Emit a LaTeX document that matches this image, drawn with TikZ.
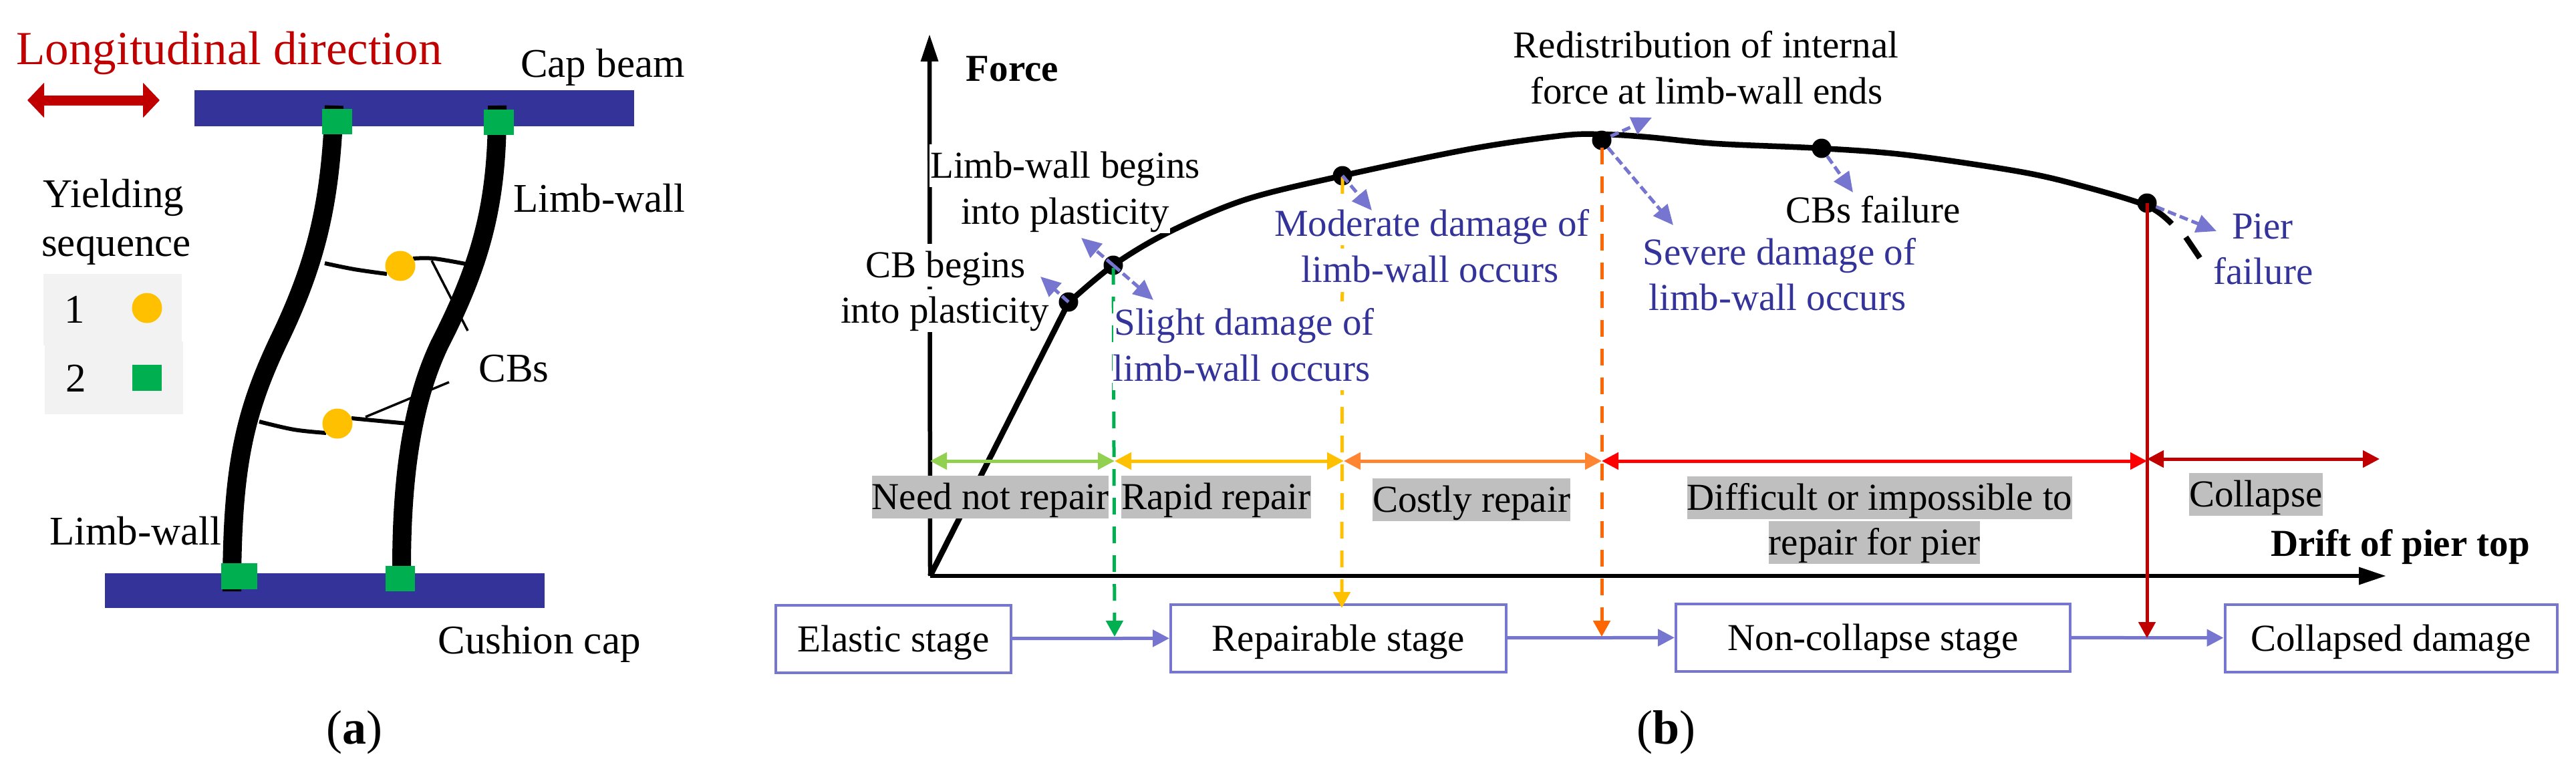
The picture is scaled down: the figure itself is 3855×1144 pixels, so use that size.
\documentclass[tikz,border=0pt]{standalone}
\usepackage{fontspec}
\setmainfont{Liberation Serif}
\usetikzlibrary{arrows.meta}
\definecolor{barblue}{HTML}{333399}
\definecolor{peri}{HTML}{7676D0}
\definecolor{wine}{HTML}{C00000}
\definecolor{gold}{HTML}{FFC000}
\definecolor{leaf}{HTML}{00B050}
\definecolor{lime}{HTML}{92D050}
\definecolor{amber}{HTML}{FF8533}
\definecolor{burnt}{HTML}{FF6600}
\definecolor{legendgray}{HTML}{F2F2F2}
\definecolor{labelgray}{HTML}{BFBFBF}
\newcommand{\fsA}{\fontsize{61}{70}\selectfont}
\newcommand{\fsB}{\fontsize{57}{66}\selectfont}
\tikzset{
  lblA/.style={inner sep=0pt,anchor=base,font=\fsA},
  lblB/.style={inner sep=0pt,anchor=base,font=\fsB},
  hl/.style={lblB,text height=50pt,text depth=14pt,inner xsep=1pt,fill=white},
  grayhl/.style={lblB,text height=50pt,text depth=14pt,inner xsep=0pt,fill=labelgray},
  bluetxt/.style={text=barblue},
  stagebox/.style={draw=peri,line width=4pt,fill=white,inner sep=0pt,font=\fsB,text height=52pt,text depth=13pt},
  flowarrow/.style={draw=peri,line width=5pt,-{Triangle[length=25pt,width=25pt]}},
  rangearrow/.style={line width=5pt,{Triangle[length=25pt,width=25pt]}-{Triangle[length=25pt,width=25pt]}},
  dashv/.style={line width=5pt,dash pattern=on 25pt off 18pt,-{Triangle[length=24pt,width=25pt]}},
  peek/.style={draw=peri,line width=5pt,dash pattern=on 13pt off 6pt,-{Triangle[length=30pt,width=27pt]}},
  marker/.style={circle,fill=black,inner sep=0pt,minimum size=29pt},
  plastic/.style={circle,fill=gold,inner sep=0pt,minimum size=45pt},
  hinge/.style={rectangle,fill=leaf,inner sep=0pt},
  wall/.style={line width=28pt,black},
  beamline/.style={line width=6pt,black},
  leader/.style={line width=3.5pt,black}
}
\begin{document}
\begin{tikzpicture}[x=1pt,y=-1pt]
\useasboundingbox (0,0) rectangle (3855,1144);
% ---------- panel (a)
\node[lblA,font=\fontsize{71}{80}\selectfont,text=wine] (longi) at (343,96) {Longitudinal direction};
\coordinate (dirL) at (41,150);
\coordinate (dirR) at (239,150);
\draw[line width=15pt,wine,{Triangle[length=25pt,width=51pt]}-{Triangle[length=25pt,width=51pt]}] (dirL) -- (dirR);
\node[fill=barblue,inner sep=0pt,minimum width=658pt,minimum height=54pt] (capbeam) at (620,162) {};
\node[fill=barblue,inner sep=0pt,minimum width=658pt,minimum height=52pt] (cushion) at (486,884) {};
\node[lblA] (tcap) at (902,115) {Cap beam};
\node[lblA] (tlimb1) at (897,317) {Limb-wall};
\node[lblA] (tlimb2) at (203,815) {Limb-wall};
\node[lblA] (tcush) at (807,978) {Cushion cap};
\node[lblA] (tcbs) at (769,571) {CBs};
\node[lblA] (tyield) at (170,310) {Yielding};
\node[lblA] (tseq) at (174,383) {sequence};
\fill[legendgray] (65,410) rectangle (272,517);
\fill[legendgray] (67,511) rectangle (274,620);
\node[lblA] (tone) at (112,483) {1};
\node[lblA] (ttwo) at (114,586) {2};
\node[plastic] (legc) at (220,461) {};
\node[hinge,minimum width=44pt,minimum height=39pt] (legs) at (220,565) {};
\draw[wall] (500,158) .. controls (495,300) and (475,390) .. (417,510) .. controls (365,620) and (347,700) .. (347,885);
\draw[wall] (744,158) .. controls (745,300) and (722,390) .. (658,515) .. controls (620,595) and (601,700) .. (601,850);
\draw[beamline] plot[smooth,tension=.6] coordinates {(486,394) (530,403) (579,410)};
\draw[beamline] plot[smooth,tension=.6] coordinates {(618,387) (650,387) (702,396)};
\draw[beamline] plot[smooth,tension=.6] coordinates {(388,631) (440,643) (488,648)};
\draw[beamline] (526,626) -- (610,634);
\coordinate (lead1a) at (646,390);
\coordinate (lead1b) at (700,495);
\coordinate (lead2a) at (547,624);
\coordinate (lead2b) at (672,572);
\draw[leader] (lead1a) -- (lead1b);
\draw[leader] (lead2a) -- (lead2b);
\node[plastic] (cb1) at (599,398) {};
\node[plastic] (cb2) at (505,634) {};
\node[hinge,minimum width=45pt,minimum height=38pt] (h1) at (504,182) {};
\node[hinge,minimum width=45pt,minimum height=38pt] (h2) at (746,183) {};
\node[hinge,minimum width=54pt,minimum height=39pt] (h3) at (358,862) {};
\node[hinge,minimum width=44pt,minimum height=38pt] (h4) at (599,866) {};
\node[lblA,font=\fontsize{72}{80}\selectfont] (capa) at (530,1113) {(\textbf{a})};
% ---------- panel (b): axes and curve
\coordinate (org) at (1392,862);
\coordinate (ytip) at (1391,51);
\coordinate (xtip) at (3571,862);
\draw[line width=6.5pt,-{Triangle[length=41pt,width=25pt]}] (org) -- (ytip);
\draw[line width=6.5pt,-{Triangle[length=41pt,width=25pt]}] (org) -- (xtip);
\draw[line width=8.5pt] (org) -- (1599,453);
\draw[line width=8.5pt] plot[smooth,tension=.55] coordinates {(1599,453) (1666,397) (1748,348) (1863,299) (2009,263) (2200,223) (2337,203) (2397,201) (2464,205) (2569,215) (2725,222) (2854,232) (3023,257) (3118,279) (3213,308) (3250,335)};
\draw[line width=8.5pt] (3271,355) -- (3292,386);
% markers
\node[marker] (m1) at (1599,452) {};
\node[marker] (m2) at (1666,397) {};
\node[marker] (m3) at (2009,263) {};
\node[marker] (m4) at (2397,210) {};
\node[marker] (m5) at (2726,222) {};
\node[marker] (m6) at (3213,304) {};
% stage boxes
\node[stagebox,minimum width=352pt,minimum height=101pt] (st1) at (1337,956) {Elastic stage};
\node[stagebox,minimum width=502pt,minimum height=101pt] (st2) at (2003,955) {Repairable stage};
\node[stagebox,minimum width=590pt,minimum height=101pt] (st3) at (2803,954) {Non-collapse stage};
\node[stagebox,minimum width=497pt,minimum height=101pt] (st4) at (3578,955) {Collapsed damage};
\draw[flowarrow] (st1) -- (st2);
\draw[flowarrow] (st2) -- (st3);
\draw[flowarrow] (st3) -- (st4);
% vertical dashed and solid drops
\coordinate (d1) at (1668,953);
\coordinate (d2) at (2008,910);
\coordinate (d3) at (2397,953);
\coordinate (d4) at (3213,955);
\draw[dashv,leaf,dash phase=39pt] (m2.center) -- (d1);
\draw[dashv,gold,dash phase=41pt] (m3.center) -- (d2);
\draw[dashv,burnt,dash phase=32pt] (m4.center) -- (d3);
\draw[wine,line width=5pt,-{Triangle[length=24pt,width=25pt]}] (m6.center) -- (d4);
% white-backed texts
\node[hl] (l1) at (1594,266) {Limb-wall begins};
\node[hl] (l2) at (1594,335) {into plasticity};
\node[hl] (c1) at (1415,415) {CB begins};
\node[hl] (c2) at (1414,483) {into plasticity};
\node[hl,bluetxt] (sl1) at (1862,501) {Slight damage of};
\node[hl,bluetxt] (sl2) at (1858,570) {limb-wall occurs};
\node[hl,bluetxt] (mo1) at (2143,353) {Moderate damage of};
\node[hl,bluetxt] (mo2) at (2140,422) {limb-wall occurs};
\node[hl] (re1) at (2553,86) {Redistribution of internal};
\node[hl] (re2) at (2554,155) {force at limb-wall ends};
\node[hl] (cf) at (2803,333) {CBs failure};
\node[hl,bluetxt] (se1) at (2663,396) {Severe damage of};
\node[hl,bluetxt] (se2) at (2660,464) {limb-wall occurs};
\node[lblB,bluetxt] (pi1) at (3386,357) {Pier};
\node[lblB,bluetxt] (pi2) at (3387,425) {failure};
\node[lblB,font=\fsB\bfseries] (fo) at (1515,121) {Force};
\node[lblB,font=\fsB\bfseries] (dr) at (3592,832) {Drift of pier top};
% range arrows
\coordinate (r0) at (1392,690);
\coordinate (r1) at (1668,690);
\coordinate (r2) at (2011,690);
\coordinate (r3) at (2397,690);
\coordinate (r4) at (3213,690);
\coordinate (r4b) at (3213,687);
\coordinate (r5) at (3561,687);
% grey labels
\node[grayhl] (g1) at (1482,762) {Need not repair};
\node[grayhl] (g2) at (1820,762) {Rapid repair};
\node[grayhl] (g3) at (2202,766) {Costly repair};
\node[grayhl] (g4) at (2813,763) {Difficult or impossible to};
\node[grayhl] (g5) at (2805,830) {repair for pier};
\node[grayhl] (g6) at (3376,758) {Collapse};
\draw[rangearrow,lime] (r0) -- (r1);
\draw[rangearrow,gold] (r1) -- (r2);
\draw[rangearrow,amber] (r2) -- (r3);
\draw[rangearrow,red] (r3) -- (r4);
\draw[rangearrow,wine] (r4b) -- (r5);
% peek arrows
\coordinate (a1) at (1557,414);
\coordinate (a2) at (1618,356);
\coordinate (a3) at (1726,449);
\coordinate (a4) at (2053,315);
\coordinate (a5) at (2472,176);
\coordinate (a6) at (2504,337);
\coordinate (a7) at (2773,288);
\coordinate (a8) at (3317,346);
\draw[peek] (m1.center) -- (a1);
\draw[peek] (m2.center) -- (a2);
\draw[peek] (m2.center) -- (a3);
\draw[peek] (m3.center) -- (a4);
\draw[peek] (m4) -- (a5);
\draw[peek] (m4) -- (a6);
\draw[peek] (m5) -- (a7);
\draw[peek] (m6) -- (a8);
\node[lblA,font=\fontsize{72}{80}\selectfont] (capb) at (2493,1113) {(\textbf{b})};
\end{tikzpicture}
\end{document}
